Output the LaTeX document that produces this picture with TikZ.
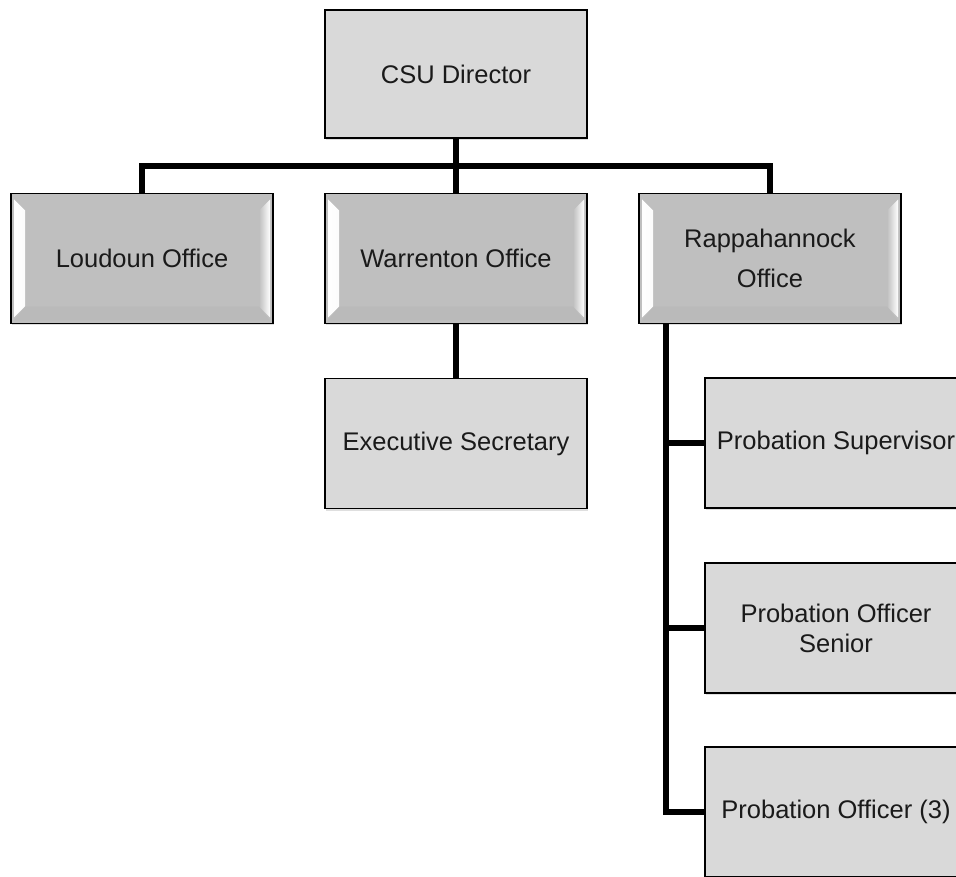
\documentclass[tikz,border=0pt]{standalone}
\usepackage{fontspec}
\setmainfont{Liberation Sans}
\usepackage{tikz}
\usetikzlibrary{shadows}

\definecolor{topgray}{HTML}{D9D9D9}
\definecolor{midgray}{HTML}{BFBFBF}
\definecolor{textgray}{HTML}{1A1A1A}

\begin{document}
\begin{tikzpicture}[x=1pt,y=-1pt,
  box/.style={draw=black,line width=1.5pt,fill=topgray,minimum width=262pt,minimum height=130pt,
    align=center,text=textgray,font=\fontsize{25.5}{30}\selectfont,
    drop shadow={opacity=0.25,shadow xshift=1pt,shadow yshift=-2pt}},
  bevelbox/.style={box,fill=midgray,
    path picture={
      \fill[left color=white,right color=midgray]
        ([xshift=3pt,yshift=-6pt]path picture bounding box.north west) --
        ([xshift=14pt,yshift=-17pt]path picture bounding box.north west) --
        ([xshift=14pt,yshift=17pt]path picture bounding box.south west) --
        ([xshift=3pt,yshift=6pt]path picture bounding box.south west) -- cycle;
      \fill[right color=white,left color=midgray]
        ([xshift=-3pt,yshift=-6pt]path picture bounding box.north east) --
        ([xshift=-14pt,yshift=-17pt]path picture bounding box.north east) --
        ([xshift=-14pt,yshift=17pt]path picture bounding box.south east) --
        ([xshift=-3pt,yshift=6pt]path picture bounding box.south east) -- cycle;
      \fill[midgray!80!black,opacity=0.12]
        ([xshift=14pt,yshift=17pt]path picture bounding box.south west) --
        ([xshift=-14pt,yshift=17pt]path picture bounding box.south east) --
        ([xshift=-3pt,yshift=3pt]path picture bounding box.south east) --
        ([xshift=3pt,yshift=3pt]path picture bounding box.south west) -- cycle;
    }},
  conn/.style={line width=6pt,black}]
\useasboundingbox (0,0) rectangle (956,877);
\clip (0,0) rectangle (956,877);

\node[box] (dir) at (456,74) [minimum height=128pt] {CSU Director};

\node[bevelbox] (lou) at (142,258.5) {Loudoun Office};
\node[bevelbox] (war) at (456,258.5) {Warrenton Office};
\node[bevelbox] (rap) at (770,258.5) {Rappahannock\\[10pt]Office};

\node[box] (sec) at (456,443.5) {Executive Secretary};

\node[box] (sup) at (836,443) {Probation Supervisor};
\node[box] (sen) at (836,628) {Probation Officer\\Senior};
\node[box] (off) at (836,812) {Probation Officer (3)};

% connectors
\coordinate (bus) at (456,166);
\draw[conn] (dir.south) -- (bus);
\draw[conn] (lou.north) |- (bus) -| (rap.north);
\draw[conn] (bus) -- (war.north);
\draw[conn] (war.south) -- (sec.north);

\coordinate (rs) at ([xshift=28pt]rap.south west);
\draw[conn] (rs) |- (off.west);
\draw[conn] (rs |- sup.west) -- (sup.west);
\draw[conn] (rs |- sen.west) -- (sen.west);
\end{tikzpicture}
\end{document}
